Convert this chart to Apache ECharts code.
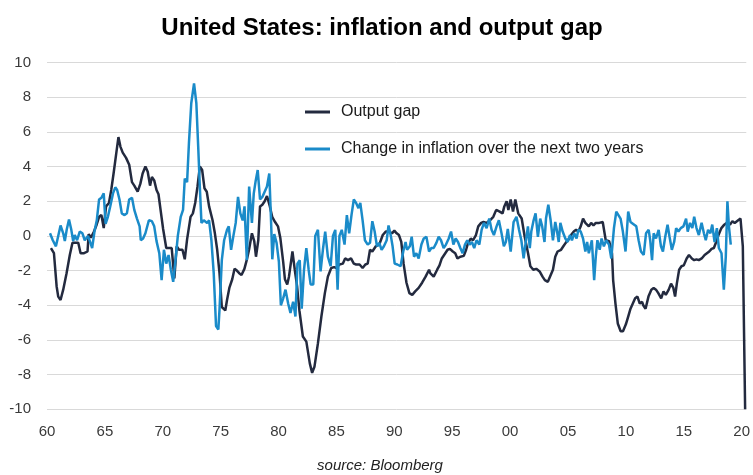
<!DOCTYPE html>
<html>
<head>
<meta charset="utf-8">
<script src="https://cdn.jsdelivr.net/npm/echarts@6/dist/echarts.min.js"></script>
<style>
  html, body { margin: 0; padding: 0; background: #fff; }
  #chart { width: 753px; height: 475px; }
</style>
</head>
<body>
<div id="chart"></div>
<script>
// quarterly readings, [year, value]
const gapPoints = [
  [1960.34,-0.7],[1960.6,-1.0],[1960.83,-2.9],[1960.97,-3.5],[1961.17,-3.7],[1961.4,-3.1],[1961.69,-2.15],[1961.97,-1.1],
  [1962.2,-0.4],[1962.5,-0.4],[1962.7,-0.4],[1962.9,-1.0],[1963.2,-1.0],[1963.5,-0.9],[1963.6,0.1],[1963.8,-0.1],
  [1964.06,0.25],[1964.26,0.6],[1964.5,1.1],[1964.7,1.2],[1964.9,0.45],[1965.1,1.7],[1965.35,1.9],[1965.55,2.65],
  [1965.75,3.6],[1965.97,4.7],[1966.17,5.7],[1966.34,5.15],[1966.54,4.8],[1966.83,4.5],[1967.1,4.1],[1967.34,3.1],
  [1967.54,2.9],[1967.83,2.55],[1968.06,3.0],[1968.26,3.6],[1968.5,4.0],[1968.7,3.7],[1968.9,2.9],[1969.06,3.4],
  [1969.26,3.2],[1969.46,2.65],[1969.63,2.4],[1969.83,1.4],[1970.03,0.4],[1970.3,-0.7],[1970.5,-0.7],[1970.77,-0.7],
  [1971.0,-2.45],[1971.2,-0.6],[1971.4,-0.8],[1971.7,-0.8],[1971.9,-1.35],[1972.1,-0.2],[1972.4,1.1],[1972.6,1.3],
  [1972.8,1.9],[1973.0,2.85],[1973.2,4.0],[1973.4,3.8],[1973.6,2.75],[1973.8,2.55],[1974.0,1.7],[1974.3,0.9],
  [1974.5,0.15],[1974.7,-0.8],[1974.9,-2.15],[1975.1,-4.1],[1975.4,-4.3],[1975.55,-3.7],[1975.75,-3.0],[1976.0,-2.5],
  [1976.2,-1.9],[1976.4,-2.0],[1976.6,-2.15],[1976.8,-2.25],[1977.05,-1.9],[1977.25,-1.4],[1977.45,-0.8],[1977.7,0.15],
  [1977.9,-0.3],[1978.05,-1.2],[1978.25,-0.25],[1978.4,1.7],[1978.6,1.8],[1978.8,2.0],[1979.0,2.3],[1979.25,1.7],
  [1979.45,1.1],[1979.7,0.8],[1979.95,0.55],[1980.15,-0.1],[1980.4,-1.5],[1980.55,-2.5],[1980.75,-2.8],[1980.9,-2.35],
  [1981.2,-0.9],[1981.4,-1.95],[1981.6,-2.9],[1981.8,-4.3],[1982.1,-5.8],[1982.4,-6.1],[1982.7,-7.35],[1982.9,-7.9],
  [1983.1,-7.55],[1983.4,-6.2],[1983.7,-4.65],[1984.0,-3.3],[1984.26,-2.35],[1984.55,-1.85],[1984.8,-1.8],[1985.0,-1.85],
  [1985.26,-1.65],[1985.55,-1.6],[1985.75,-1.3],[1986.0,-1.4],[1986.26,-1.3],[1986.5,-1.6],[1986.7,-1.65],[1987.0,-1.65],
  [1987.26,-1.85],[1987.5,-1.65],[1987.7,-1.6],[1987.9,-0.8],[1988.1,-0.9],[1988.4,-0.6],[1988.7,-0.5],[1989.0,0.05],
  [1989.26,0.25],[1989.55,0.25],[1989.8,0.15],[1990.0,0.3],[1990.2,0.15],[1990.4,0.05],[1990.6,-0.35],[1990.8,-1.6],
  [1991.05,-2.7],[1991.3,-3.3],[1991.55,-3.4],[1991.8,-3.2],[1992.1,-3.0],[1992.4,-2.7],[1992.7,-2.35],[1993.0,-1.95],
  [1993.1,-2.15],[1993.4,-2.35],[1993.7,-1.95],[1993.9,-1.7],[1994.1,-1.3],[1994.4,-1.0],[1994.6,-0.8],[1994.8,-0.75],
  [1995.05,-0.9],[1995.26,-1.0],[1995.45,-1.3],[1995.7,-1.2],[1996.0,-1.15],[1996.2,-0.8],[1996.35,-0.45],[1996.6,-0.15],
  [1996.8,-0.25],[1997.05,0.05],[1997.25,0.55],[1997.5,0.75],[1997.7,0.8],[1997.97,0.75],[1998.26,0.9],[1998.55,1.1],
  [1998.8,1.5],[1999.1,1.4],[1999.35,1.3],[1999.5,1.7],[1999.7,2.0],[1999.85,1.5],[2000.05,2.1],[2000.25,1.4],
  [2000.45,2.1],[2000.7,1.3],[2001.0,1.0],[2001.26,-0.05],[2001.55,-1.0],[2001.75,-1.75],[2002.0,-1.95],[2002.26,-1.9],
  [2002.55,-2.05],[2002.8,-2.35],[2003.0,-2.55],[2003.26,-2.65],[2003.4,-2.55],[2003.7,-1.95],[2003.9,-1.2],[2004.1,-0.9],
  [2004.4,-0.8],[2004.6,-0.6],[2004.8,-0.4],[2005.05,-0.2],[2005.26,0.05],[2005.5,0.25],[2005.7,0.35],[2005.9,0.25],
  [2006.1,0.55],[2006.3,1.0],[2006.5,0.75],[2006.8,0.55],[2007.0,0.75],[2007.2,0.6],[2007.4,0.75],[2007.7,0.75],
  [2008.0,0.8],[2008.26,-0.25],[2008.55,-0.3],[2008.8,-1.0],[2008.9,-2.55],[2009.1,-3.9],[2009.3,-5.05],[2009.55,-5.5],
  [2009.75,-5.5],[2010.0,-5.1],[2010.2,-4.65],[2010.4,-4.2],[2010.6,-3.9],[2010.8,-3.6],[2011.0,-3.5],[2011.2,-3.9],
  [2011.4,-3.8],[2011.5,-4.0],[2011.7,-4.2],[2011.95,-3.5],[2012.2,-3.1],[2012.4,-3.0],[2012.6,-3.1],[2012.8,-3.3],
  [2013.05,-3.6],[2013.25,-3.2],[2013.45,-3.4],[2013.7,-3.1],[2013.9,-2.75],[2014.1,-3.0],[2014.25,-3.5],[2014.4,-2.75],
  [2014.6,-1.95],[2014.8,-1.75],[2015.0,-1.7],[2015.25,-1.3],[2015.45,-1.1],[2015.7,-1.3],[2015.9,-1.4],[2016.1,-1.35],
  [2016.3,-1.4],[2016.55,-1.3],[2016.8,-1.1],[2017.0,-1.0],[2017.2,-0.9],[2017.4,-0.75],[2017.6,-0.7],[2017.8,-0.35],
  [2018.0,0.05],[2018.25,0.45],[2018.5,0.65],[2018.7,0.75],[2019.0,0.65],[2019.2,0.85],[2019.4,0.75],[2019.7,0.9],
  [2019.9,1.0],[2020.1,-0.6],[2020.3,-10]
];

const inflationPoints = [
  [1960.26,0.15],[1960.5,-0.25],[1960.77,-0.6],[1960.97,0],[1961.17,0.6],[1961.4,0.15],[1961.54,-0.3],[1961.7,0.35],
  [1961.9,0.95],[1962.1,0.35],[1962.26,-0.3],[1962.4,0.05],[1962.6,-0.25],[1962.83,0.25],[1963.06,0.15],[1963.26,-0.25],
  [1963.54,0],[1963.7,-0.3],[1963.9,-0.7],[1964.1,0.25],[1964.3,0.9],[1964.5,2.1],[1964.7,2.2],[1964.9,2.45],
  [1965.06,0.7],[1965.26,1.1],[1965.46,1.7],[1965.7,2.45],[1965.9,2.8],[1966.06,2.65],[1966.26,2.1],[1966.46,1.3],
  [1966.7,1.2],[1966.9,1.3],[1967.1,2.1],[1967.34,2.2],[1967.54,1.5],[1967.77,1.0],[1968.0,0.55],[1968.1,-0.25],
  [1968.3,-0.15],[1968.5,0.15],[1968.8,0.9],[1969.06,0.85],[1969.26,0.55],[1969.46,-0.3],[1969.7,-1.0],[1969.9,-2.55],
  [1970.1,-0.8],[1970.3,-1.6],[1970.5,-1.1],[1970.7,-1.95],[1970.9,-2.65],[1971.1,-1.4],[1971.3,0],[1971.55,1.1],
  [1971.75,1.5],[1971.9,3.3],[1972.1,3.1],[1972.26,5.35],[1972.46,7.65],[1972.7,8.8],[1972.9,7.65],[1973.06,5.15],
  [1973.2,2.85],[1973.34,0.75],[1973.54,0.9],[1973.83,0.75],[1974.0,0.9],[1974.2,-0.25],[1974.4,-2.15],[1974.6,-5.2],
  [1974.8,-5.4],[1974.9,-4.25],[1975.1,-1.4],[1975.3,-0.25],[1975.55,0.35],[1975.7,0.55],[1975.9,-0.8],[1976.1,0],
  [1976.3,0.75],[1976.5,2.25],[1976.7,1.3],[1976.9,0.9],[1977.06,1.7],[1977.26,-1.4],[1977.46,2.85],[1977.7,0.75],
  [1977.86,2.45],[1978.03,3.2],[1978.2,3.8],[1978.4,2.1],[1978.6,2.25],[1978.8,2.55],[1979.0,2.85],[1979.2,3.6],
  [1979.34,1.1],[1979.46,-1.35],[1979.63,0.1],[1979.83,-0.4],[1980.03,-1.5],[1980.2,-4.0],[1980.4,-3.6],[1980.6,-3.1],
  [1980.83,-3.9],[1981.03,-4.45],[1981.26,-3.8],[1981.46,-4.65],[1981.63,-1.6],[1981.83,-1.4],[1982.0,-4.2],[1982.2,-1.95],
  [1982.4,-0.7],[1982.6,-1.95],[1982.77,-2.8],[1983.0,-2.8],[1983.17,0],[1983.4,0.35],[1983.63,-2.05],[1983.83,-0.8],
  [1984.03,0.25],[1984.26,-1.2],[1984.5,-1.75],[1984.7,0],[1984.9,0.35],[1985.1,-3.1],[1985.26,0],[1985.46,0.35],
  [1985.7,-0.5],[1985.9,1.2],[1986.1,0.15],[1986.3,1.2],[1986.5,2.1],[1986.7,1.9],[1986.9,1.6],[1987.06,1.9],
  [1987.26,0.9],[1987.46,-0.25],[1987.7,-0.5],[1987.9,-0.4],[1988.1,0.85],[1988.3,0.25],[1988.5,-0.6],[1988.7,-0.4],
  [1988.9,-0.8],[1989.1,-0.6],[1989.34,-0.25],[1989.5,0.6],[1989.7,0],[1989.85,-0.6],[1990.03,-1.6],[1990.26,-1.65],
  [1990.54,-1.75],[1990.77,-0.9],[1990.97,-0.35],[1991.1,-0.8],[1991.34,-0.6],[1991.5,-0.05],[1991.7,-1.2],[1991.9,-1.0],
  [1992.1,-1.3],[1992.34,-0.5],[1992.54,-0.15],[1992.77,-0.05],[1993.0,-0.9],[1993.2,-0.7],[1993.4,-0.7],[1993.63,-0.4],
  [1993.83,-0.05],[1994.03,-0.25],[1994.26,-0.7],[1994.46,-0.5],[1994.7,-0.15],[1994.9,0.25],[1995.1,-0.5],[1995.3,-0.15],
  [1995.5,-0.35],[1995.7,-0.7],[1995.9,-1.0],[1996.1,-0.5],[1996.3,-0.25],[1996.5,-0.5],[1996.7,-0.35],[1996.9,-0.7],
  [1997.1,-0.25],[1997.34,-0.5],[1997.54,0.35],[1997.74,0.75],[1997.97,0.45],[1998.2,1.0],[1998.4,0.35],[1998.6,0.05],
  [1998.83,0.55],[1999.03,0.9],[1999.26,0.15],[1999.46,-0.6],[1999.63,-0.35],[1999.8,0.4],[2000.05,-0.9],[2000.3,0.8],
  [2000.55,1.1],[2000.77,0.35],[2000.97,-0.25],[2001.17,-1.3],[2001.34,-0.4],[2001.54,0.55],[2001.7,-0.7],[2001.83,0.25],
  [2002.03,0.9],[2002.2,1.3],[2002.4,-0.05],[2002.6,1.0],[2002.77,0.55],[2002.97,-0.35],[2003.1,1.0],[2003.3,1.8],
  [2003.5,0.9],[2003.7,-0.25],[2003.9,0.8],[2004.03,0.35],[2004.2,-0.35],[2004.34,0.75],[2004.54,0.25],[2004.77,-0.15],
  [2004.97,-0.35],[2005.17,0.05],[2005.34,-0.25],[2005.54,0.15],[2005.74,-0.15],[2005.9,0.35],[2006.1,0.25],[2006.3,-0.15],
  [2006.5,-0.9],[2006.65,-0.35],[2006.8,-1.0],[2007.06,-0.25],[2007.26,-2.55],[2007.4,-1.2],[2007.54,-0.25],[2007.74,-0.8],
  [2007.9,-0.15],[2008.1,-0.6],[2008.3,-0.25],[2008.54,-0.5],[2008.74,-1.3],[2008.97,0.45],[2009.17,1.4],[2009.34,1.5],
  [2009.54,1.0],[2009.74,0.25],[2009.97,-0.9],[2010.2,1.4],[2010.4,0.8],[2010.6,0.7],[2010.9,0.55],[2011.1,-0.25],
  [2011.3,-0.9],[2011.54,-1.1],[2011.74,0.15],[2011.97,0.35],[2012.1,-0.25],[2012.26,-1.4],[2012.4,0.15],[2012.6,-0.15],
  [2012.83,0.35],[2013.03,-0.6],[2013.2,-0.9],[2013.4,-0.05],[2013.6,0.65],[2013.77,-0.05],[2013.97,-0.8],[2014.17,-0.35],
  [2014.34,0.45],[2014.54,0.25],[2014.74,0.45],[2014.97,0.55],[2015.2,1.0],[2015.34,0.25],[2015.54,0.75],[2015.74,0.45],
  [2015.9,1.1],[2016.1,0.45],[2016.3,0.05],[2016.54,0.75],[2016.74,0.15],[2016.9,-0.25],[2017.1,0.35],[2017.3,0.15],
  [2017.46,0.65],[2017.66,-0.35],[2017.86,0.45],[2018.03,-0.7],[2018.26,-1.0],[2018.46,-3.1],[2018.63,-1.2],[2018.77,2.0],
  [2018.9,0.55],[2019.06,-0.5]
];

const seriesNames = ['Output gap', 'Change in inflation over the next two years'];

const chart = echarts.init(document.getElementById('chart'), null, { renderer: 'canvas' });
const font = 'Liberation Sans, Arial, sans-serif';

chart.setOption({
  animation: false,
  title: [
    {
      text: 'United States: inflation and output gap',
      left: 382,
      top: 16,
      padding: 0,
      textAlign: 'center',
      textStyle: { fontFamily: font, fontSize: 24, fontWeight: 'bold', color: '#000' }
    },
    {
      text: 'source: Bloomberg',
      left: 380,
      top: 458,
      padding: 0,
      textAlign: 'center',
      textStyle: { fontFamily: font, fontSize: 15, fontWeight: 'normal', fontStyle: 'italic', color: '#222' }
    }
  ],
  legend: {
    data: seriesNames,
    orient: 'vertical',
    left: 305,
    top: 104,
    icon: 'rect',
    itemWidth: 25,
    itemHeight: 3,
    itemGap: 21,
    padding: 0,
    textStyle: { fontFamily: font, fontSize: 16, color: '#1a1a1a', padding: [0, 0, 0, 6] }
  },
  grid: { left: 47, right: 1, top: 62.5, bottom: 65.7, containLabel: false },
  xAxis: {
    type: 'value',
    min: 1960,
    max: 2020.4,
    interval: 5,
    axisLine: { show: false },
    axisTick: { show: false },
    splitLine: { show: false },
    axisLabel: {
      margin: 15,
      fontFamily: font,
      fontSize: 15,
      color: '#3a3a3a',
      showMaxLabel: false,
      formatter: v => (v % 5 === 0 ? String(v).slice(2) : '')
    }
  },
  yAxis: {
    type: 'value',
    min: -10,
    max: 10,
    interval: 2,
    axisLine: { show: false },
    axisTick: { show: false },
    splitLine: { lineStyle: { color: '#d9d9d9', width: 1 } },
    axisLabel: { margin: 16, fontFamily: font, fontSize: 15, color: '#3a3a3a' }
  },
  series: [
    {
      name: seriesNames[0],
      type: 'line',
      data: gapPoints,
      showSymbol: false,
      symbol: 'none',
      color: '#232a3f',
      lineStyle: { width: 2.5, color: '#232a3f' }
    },
    {
      name: seriesNames[1],
      type: 'line',
      data: inflationPoints,
      showSymbol: false,
      symbol: 'none',
      color: '#1a8bc9',
      lineStyle: { width: 2.5, color: '#1a8bc9' }
    }
  ]
});
</script>
</body>
</html>
